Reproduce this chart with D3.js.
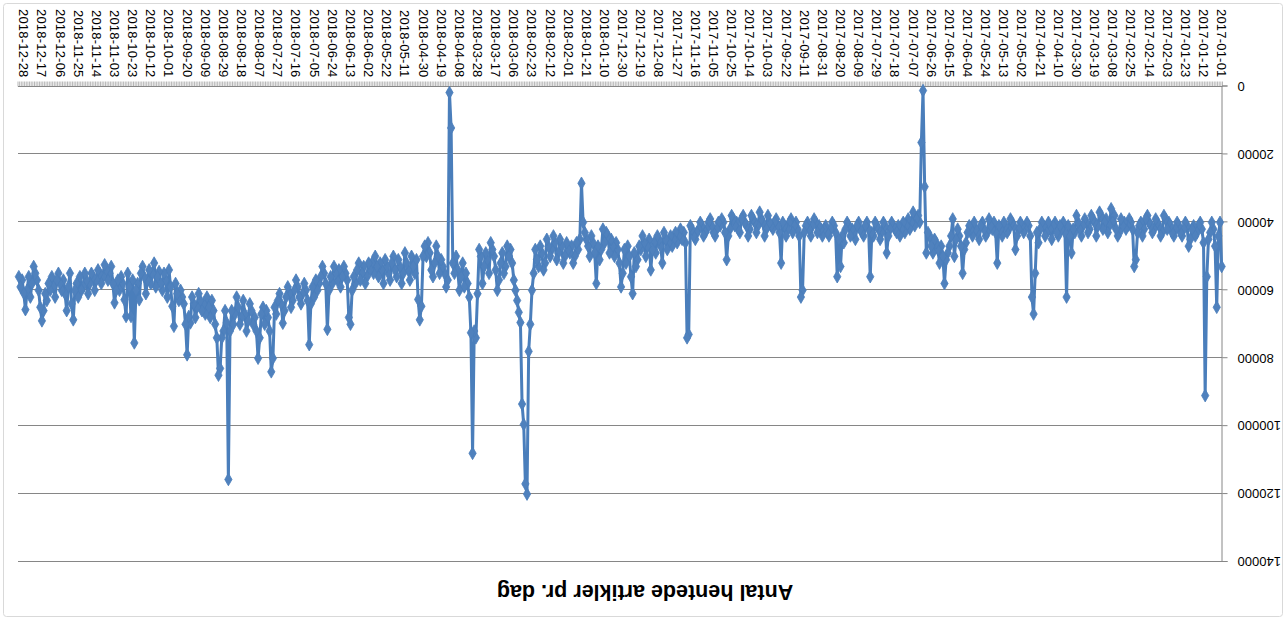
<!DOCTYPE html>
<html>
<head>
<meta charset="utf-8">
<script src="https://cdn.jsdelivr.net/npm/d3@7"></script>
<style>
  html, body { margin: 0; padding: 0; background: #fff; }
  svg { display: block; font-family: "Liberation Sans", Arial, sans-serif; }
</style>
</head>
<body>
<div id="chart"></div>
<script>
// daily values (thousands of articles), one array per month
const startDate = "2017-01-01";
const tickEvery = 11;
const title = "Antal hentede artikler pr. dag";
const yTicks = [0, 20000, 40000, 60000, 80000, 100000, 120000, 140000];

const m2017_01 = [53, 40, 44, 65, 47, 42, 40, 43, 45, 56, 91, 46, 42, 40, 41, 43, 44, 41, 42, 45, 47, 41, 40, 42, 44, 43, 41, 40, 42, 44, 43];
const m2017_02 = [41, 40, 42, 39, 38, 43, 44, 41, 40, 39, 42, 43, 41, 40, 38, 39, 42, 44, 40, 41, 43, 51, 53, 42, 40, 39, 41, 42];
const m2017_03 = [40, 41, 39, 43, 44, 42, 38, 40, 36, 41, 43, 39, 40, 42, 38, 37, 41, 44, 40, 39, 38, 42, 43, 40, 39, 41, 44, 42, 40, 38, 43];
const m2017_04 = [42, 49, 44, 41, 62, 43, 40, 42, 41, 44, 43, 40, 41, 45, 42, 40, 43, 44, 41, 40, 42, 46, 43, 55, 67, 62, 44, 41, 40, 42];
const m2017_05 = [43, 41, 40, 42, 44, 48, 41, 40, 39, 42, 43, 41, 40, 44, 42, 41, 52, 43, 40, 42, 41, 39, 43, 44, 42, 40, 41, 45, 43, 42, 40];
const m2017_06 = [44, 42, 41, 43, 46, 48, 55, 47, 44, 42, 45, 50, 39, 44, 47, 49, 51, 58, 50, 47, 52, 48, 46, 45, 49, 47, 44, 43, 49, 29.5];
const m2017_07 = [1.2, 16.5, 40, 38, 39, 41, 37, 40, 42, 39, 41, 43, 40, 42, 44, 41, 43, 42, 41, 40, 42, 44, 49, 41, 40, 43, 45, 42, 41, 40, 44];
const m2017_08 = [43, 56, 42, 40, 41, 44, 43, 42, 40, 41, 45, 43, 42, 44, 41, 40, 42, 46, 44, 53, 45, 56, 43, 41, 40, 42, 44, 43, 41, 42, 44];
const m2017_09 = [42, 41, 43, 40, 39, 41, 44, 42, 40, 41, 43, 60, 62, 44, 42, 40, 41, 43, 39, 40, 42, 44, 41, 40, 52, 43, 41, 39, 40, 42];
const m2017_10 = [41, 40, 38, 42, 44, 40, 39, 37, 41, 43, 40, 39, 38, 42, 44, 41, 40, 38, 39, 43, 42, 40, 41, 39, 38, 42, 44, 51, 43, 40, 39];
const m2017_11 = [41, 40, 42, 44, 43, 41, 39, 40, 42, 43, 44, 41, 40, 42, 43, 45, 44, 42, 41, 73, 74, 46, 43, 45, 42, 44, 46, 43, 45, 47];
const m2017_12 = [44, 46, 48, 45, 43, 52, 47, 45, 44, 49, 46, 48, 54, 45, 47, 50, 46, 44, 48, 47, 51, 53, 49, 61, 56, 50, 47, 52, 48, 55, 59];
const m2018_01 = [52, 48, 46, 50, 47, 45, 49, 44, 43, 46, 42, 48, 51, 47, 58, 49, 46, 44, 50, 47, 45, 43, 40, 28.5, 45, 48, 46, 50, 52, 47, 49];
const m2018_02 = [48, 46, 50, 52, 47, 45, 49, 51, 46, 44, 48, 50, 47, 45, 52, 54, 49, 47, 53, 51, 48, 55, 60, 70, 78, 120, 117, 99.5];
const m2018_03 = [93.5, 69.5, 66.5, 63, 60, 57, 52, 48, 50, 47, 53, 55, 49, 52, 57, 60, 54, 50, 48, 46, 55, 51, 49, 53, 58, 50, 48, 61, 74, 72, 108];
const m2018_04 = [72.5, 62, 58, 55, 59, 52, 56, 60, 54, 50, 55, 52, 12.2, 1.8, 57, 59, 55, 53, 51, 55, 50, 47, 52, 56, 54, 49, 46, 50, 47, 50];
const m2018_05 = [64.7, 68.7, 62.7, 51, 55, 53, 50, 57, 54, 52, 49, 55, 58, 53, 51, 56, 54, 50, 52, 57, 55, 53, 51, 58, 54, 52, 56, 53, 50, 55, 52];
const m2018_06 = [54, 52, 56, 58, 53, 55, 57, 52, 54, 58, 56, 60, 70, 68, 57, 55, 53, 56, 59, 54, 57, 55, 53, 58, 56, 60, 71.5, 58, 55, 53];
const m2018_07 = [56, 58, 60, 57, 62, 59, 64, 76, 63, 60, 58, 61, 64, 62, 59, 57, 60, 63, 65, 61, 59, 62, 66, 69.7, 64, 61, 63, 67, 65, 80, 84];
const m2018_08 = [72, 68, 66, 70, 65, 67, 74, 80, 72, 68, 70, 66, 64, 69, 72, 67, 63, 68, 70, 65, 62, 67, 70, 66, 72, 115.7, 69.6, 66, 72, 74, 83];
const m2018_09 = [85, 74, 70, 66, 63, 68, 65, 62, 67, 64, 66, 63, 61, 65, 68, 64, 62, 69.6, 67.7, 79, 70, 64, 62, 60, 63, 61, 58, 70.6, 64.7, 59];
const m2018_10 = [54, 62, 57, 55, 60, 58, 54.5, 56, 59, 52, 55, 58, 54, 57, 61, 56, 53, 55, 62.8, 58, 60, 75.5, 57, 67.7, 59, 55, 67.7, 62.8, 58, 56, 60];
const m2018_11 = [57, 60, 63.7, 58, 53, 55, 57, 54, 52.5, 56, 58, 55, 54, 57, 60, 56, 55, 58, 61, 57, 55, 59, 60, 56, 62, 58, 60, 68.7, 64, 55];
const m2018_12 = [59, 66, 61, 57, 60, 58, 55, 57, 62, 59, 56, 60, 58, 63, 61, 66, 69, 65, 60, 57, 55, 53, 58, 62, 56, 60, 65.7, 60.8, 57, 59, 56];

const months = [m2017_01, m2017_02, m2017_03, m2017_04, m2017_05, m2017_06,
  m2017_07, m2017_08, m2017_09, m2017_10, m2017_11, m2017_12,
  m2018_01, m2018_02, m2018_03, m2018_04, m2018_05, m2018_06,
  m2018_07, m2018_08, m2018_09, m2018_10, m2018_11, m2018_12];

const values = months.flat();
const fmt = d3.utcFormat("%Y-%m-%d");
const start = d3.utcParse("%Y-%m-%d")(startDate);
const data = values.map((v, i) => ({ date: fmt(d3.utcDay.offset(start, i)), value: v * 1000 }));

const width = 1288, height = 621;
const plot = { left: 65.5, right: 1270, top: 59, bottom: 534.5 };
const blue = "#4a7ebb";
const axisGrey = "#868686";

const svg = d3.select("#chart").append("svg")
  .attr("width", width)
  .attr("height", height);

svg.append("rect").attr("width", width).attr("height", height).attr("fill", "#fff");

// the whole chart is turned upside down in the original
const g = svg.append("g").attr("transform", `rotate(180, ${width / 2}, ${height / 2})`);

g.append("rect")
  .attr("x", 5.5).attr("y", 4.5)
  .attr("width", 1279).attr("height", 613)
  .attr("rx", 3)
  .attr("fill", "#fff")
  .attr("stroke", "#d9d9d9");

const x = d3.scaleBand()
  .domain(data.map(d => d.date))
  .range([plot.left, plot.right]);

const y = d3.scaleLinear()
  .domain([0, 140000])
  .range([plot.bottom, plot.top]);

const cx = d => x(d.date) + x.bandwidth() / 2;

// gridlines
g.append("g").selectAll("line")
  .data(yTicks.slice(1))
  .join("line")
  .attr("x1", plot.left).attr("x2", plot.right)
  .attr("y1", d => Math.round(y(d)) + 0.5).attr("y2", d => Math.round(y(d)) + 0.5)
  .attr("stroke", axisGrey);

// y axis
const yAxis = g.append("g")
  .attr("transform", `translate(${plot.left},0)`)
  .call(d3.axisLeft(y).tickValues(yTicks).tickSize(5).tickPadding(10).tickFormat(d3.format("d")));
yAxis.select(".domain").attr("stroke", axisGrey);
yAxis.selectAll(".tick line").attr("stroke", axisGrey);
yAxis.selectAll("text").attr("font-size", 13).attr("fill", "#000")
  .attr("font-family", "Liberation Sans, Arial, sans-serif");

// x axis: one tick per day, label every 11th day
const xAxis = g.append("g")
  .attr("transform", `translate(0,${plot.bottom})`);
xAxis.append("line")
  .attr("x1", plot.left).attr("x2", plot.right)
  .attr("stroke", axisGrey);
xAxis.selectAll("line.tk")
  .data(d3.range(data.length + 1))
  .join("line")
  .attr("class", "tk")
  .attr("x1", i => plot.left + i * x.step()).attr("x2", i => plot.left + i * x.step())
  .attr("y1", 0).attr("y2", 5)
  .attr("stroke", axisGrey)
  .attr("stroke-width", 0.6);

const labelled = data.filter((d, i) => i % tickEvery === 0);
xAxis.selectAll("text")
  .data(labelled)
  .join("text")
  .attr("transform", d => `translate(${cx(d)},9) rotate(-90)`)
  .attr("text-anchor", "end")
  .attr("dy", "0.35em")
  .attr("font-size", 13)
  .attr("letter-spacing", 0.2)
  .attr("fill", "#000")
  .text(d => d.date);

// series
const line = d3.line().x(cx).y(d => y(d.value));
g.append("path")
  .datum(data)
  .attr("d", line)
  .attr("fill", "none")
  .attr("stroke", blue)
  .attr("stroke-width", 3)
  .attr("stroke-linejoin", "round");

g.append("g").selectAll("path")
  .data(data)
  .join("path")
  .attr("transform", d => `translate(${cx(d)},${y(d.value)})`)
  .attr("d", d3.symbol(d3.symbolDiamond, 46))
  .attr("fill", "#4f81bd")
  .attr("stroke", blue)
  .attr("stroke-width", 0.8);

// title
g.append("text")
  .attr("x", 643).attr("y", 36)
  .attr("text-anchor", "middle")
  .attr("font-size", 21.5)
  .attr("font-weight", "bold")
  .attr("fill", "#000")
  .text(title);
</script>
</body>
</html>
